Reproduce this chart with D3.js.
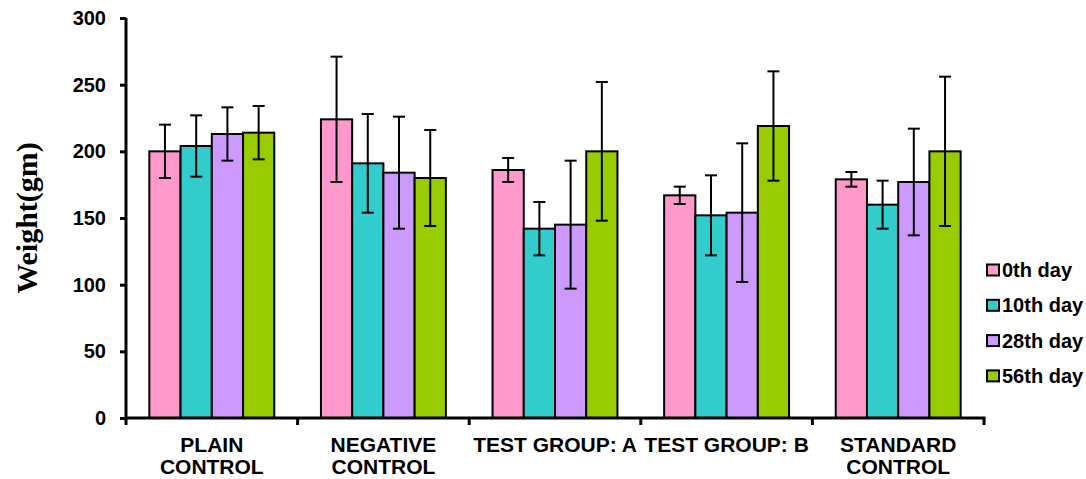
<!DOCTYPE html>
<html><head><meta charset="utf-8">
<script src="https://cdn.jsdelivr.net/npm/d3@7"></script>
<style>body{margin:0;background:#fff}</style>
</head><body><svg id="c" width="1086" height="479"></svg>
<script>
const categories = [["PLAIN","CONTROL"],["NEGATIVE","CONTROL"],["TEST GROUP: A"],["TEST GROUP: B"],["STANDARD","CONTROL"]];
const seriesNames = ["0th day","10th day","28th day","56th day"];
const seriesColors = ["#ff99cc","#33cccc","#cc99ff","#99cc00"];
const day0  = [200,224,186,167,179];
const day10 = [204,191,142,152,160];
const day28 = [213,184,145,154,177];
const day56 = [214,180,200,219,200];
const sd0   = [20,47,9,6.5,5.5];
const sd10  = [23,37,20,30,18];
const sd28  = [20,42,48,52,40];
const sd56  = [20,36,52,41,56];
const yTicks = [0,50,100,150,200,250,300];

const values=[day0,day10,day28,day56], sds=[sd0,sd10,sd28,sd56];
const svg=d3.select("#c");
const L=126,R=984,T=18,B=418;
const x=d3.scaleBand().domain(d3.range(categories.length)).range([L,R]).paddingInner(0.272).paddingOuter(0.136);
const xs=d3.scaleBand().domain(d3.range(seriesNames.length)).range([0,x.bandwidth()]);
const y=d3.scaleLinear().domain([0,300]).range([B,T]);
const font="'Liberation Sans', Arial, sans-serif";

// bars
seriesNames.forEach((s,si)=>{
  const g=svg.append("g");
  g.selectAll("rect").data(values[si]).enter().append("rect")
   .attr("x",(d,i)=>x(i)+xs(si)).attr("y",d=>y(d))
   .attr("width",xs.bandwidth()).attr("height",d=>y(0)-y(d))
   .attr("fill",seriesColors[si]).attr("stroke","#000").attr("stroke-width",2);
});
// error bars
seriesNames.forEach((s,si)=>{
  values[si].forEach((v,i)=>{
    const cx=x(i)+xs(si)+xs.bandwidth()/2, sd=sds[si][i];
    const g=svg.append("g").attr("stroke","#000").attr("stroke-width",2);
    g.append("line").attr("x1",cx).attr("x2",cx).attr("y1",y(v+sd)).attr("y2",y(v-sd));
    g.append("line").attr("x1",cx-6).attr("x2",cx+6).attr("y1",y(v+sd)).attr("y2",y(v+sd));
    g.append("line").attr("x1",cx-6).attr("x2",cx+6).attr("y1",y(v-sd)).attr("y2",y(v-sd));
  });
});
// y axis
const ya=svg.append("g").attr("transform",`translate(${L},0)`)
  .call(d3.axisLeft(y).tickValues(yTicks).tickSize(6).tickPadding(14));
ya.select(".domain").attr("stroke-width",3).attr("d",`M0,${T}V${B}`);
ya.selectAll(".tick line").attr("stroke-width",3);
ya.selectAll("text").attr("font-family",font).attr("font-weight","bold").attr("font-size",20).attr("fill","#000");
// x axis
const xa=svg.append("g").attr("transform",`translate(0,${B})`);
xa.append("line").attr("x1",L-1).attr("x2",R+1.5).attr("stroke","#000").attr("stroke-width",3);
const tickPos=d3.range(categories.length+1).map(i=>L+i*x.step());
xa.selectAll(".t").data(tickPos).enter().append("line")
  .attr("x1",d=>d).attr("x2",d=>d).attr("y1",0).attr("y2",7).attr("stroke","#000").attr("stroke-width",3);
categories.forEach((lines,i)=>{
  const t=xa.append("text").attr("text-anchor","middle").attr("font-family",font)
    .attr("font-weight","bold").attr("font-size",21).attr("fill","#000");
  lines.forEach((ln,k)=>t.append("tspan").attr("x",x(i)+x.bandwidth()/2).attr("y",34+k*22.3).text(ln));
});
// y title
svg.append("text").attr("transform","translate(37,218) rotate(-90)").attr("text-anchor","middle")
  .attr("font-family","'Liberation Serif','Times New Roman',serif").attr("font-weight","bold")
  .attr("font-size",30).text("Weight(gm)");
// legend
const lg=svg.append("g").attr("transform","translate(987,264.5)");
seriesNames.forEach((s,si)=>{
  const r=lg.append("g").attr("transform",`translate(0,${si*35.3})`);
  r.append("rect").attr("x",0).attr("y",0).attr("width",12).attr("height",11)
   .attr("fill",seriesColors[si]).attr("stroke","#000").attr("stroke-width",2);
  r.append("text").attr("x",15).attr("y",12.5).attr("font-family",font).attr("font-weight","bold")
   .attr("font-size",20).text(s);
});
</script></body></html>
